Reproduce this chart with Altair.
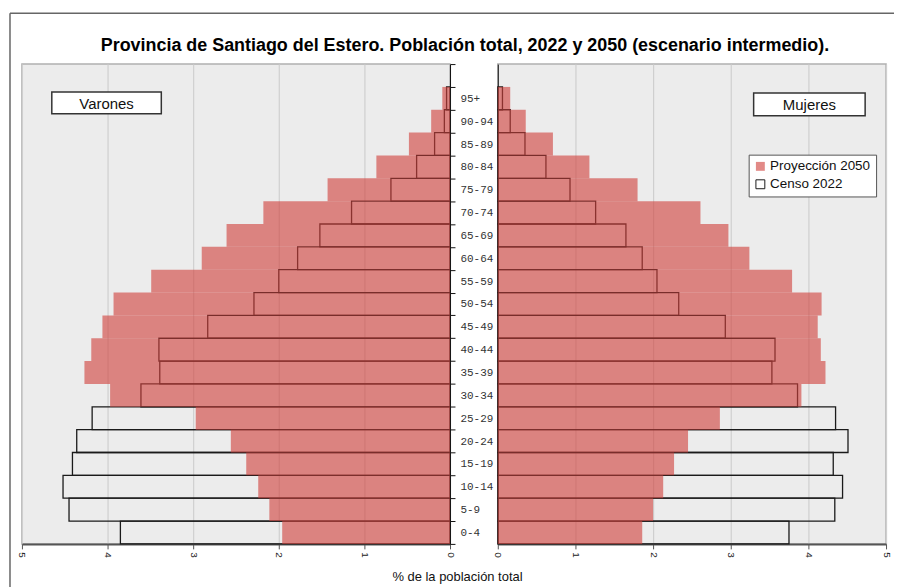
import altair as alt
import pandas as pd

AGES = ["0-4", "5-9", "10-14", "15-19", "20-24", "25-29", "30-34", "35-39", "40-44", "45-49",
        "50-54", "55-59", "60-64", "65-69", "70-74", "75-79", "80-84", "85-89", "90-94", "95+"]
VARONES_2050 = [1.96, 2.11, 2.24, 2.38, 2.56, 2.97, 3.97, 4.27, 4.19, 4.06,
                3.93, 3.49, 2.90, 2.61, 2.18, 1.43, 0.86, 0.48, 0.22, 0.09]
VARONES_2022 = [3.85, 4.45, 4.52, 4.41, 4.36, 4.18, 3.61, 3.39, 3.40, 2.83,
                2.29, 2.00, 1.78, 1.52, 1.15, 0.69, 0.39, 0.18, 0.066, 0.04]
MUJERES_2050 = [1.86, 2.00, 2.13, 2.27, 2.45, 2.86, 3.91, 4.22, 4.16, 4.12,
                4.17, 3.79, 3.24, 2.97, 2.61, 1.80, 1.18, 0.71, 0.36, 0.16]
MUJERES_2022 = [3.75, 4.34, 4.44, 4.32, 4.51, 4.35, 3.86, 3.53, 3.57, 2.93,
                2.33, 2.05, 1.86, 1.65, 1.26, 0.93, 0.62, 0.35, 0.16, 0.06]
SERIES = ["Proyección 2050", "Censo 2022"]
TITLE = "Provincia de Santiago del Estero. Población total, 2022 y 2050 (escenario intermedio)."
X_TITLE = "% de la población total"

rows = []
for i, age in enumerate(AGES):
    for sexo, v50, v22 in (("Varones", VARONES_2050, VARONES_2022), ("Mujeres", MUJERES_2050, MUJERES_2022)):
        rows.append(dict(edad=age, i0=i, i1=i + 1, sexo=sexo, serie=SERIES[0], valor=v50[i], cero=0))
        rows.append(dict(edad=age, i0=i, i1=i + 1, sexo=sexo, serie=SERIES[1], valor=v22[i], cero=0))
df = pd.DataFrame(rows)

FONT = "Liberation Sans"
RED = "rgba(209,66,61,0.62)"

fill_scale = alt.Scale(domain=SERIES, range=[RED, "transparent"])
stroke_scale = alt.Scale(domain=SERIES, range=["transparent", "#1a1a1a"])
yscale = alt.Scale(domain=[0, 21], nice=False, zero=False)

label_expr = "[" + ",".join("'%s'" % a for a in AGES) + "][floor(datum.value)]"


def panel(sexo, reverse, show_legend, y_axis, x_title):
    sub = df[df.sexo == sexo]
    xaxis = alt.Axis(values=[0, 1, 2, 3, 4, 5], grid=True, gridColor="#cfcfcf", gridWidth=1.2,
                     tickColor="#555", tickSize=5, domainColor="#555", domainWidth=2,
                     labelAngle=90, labelFontSize=10, labelFont=FONT, labelColor="#222",
                     labelPadding=3,
                     title=x_title if x_title else None, titleFont=FONT, titleFontSize=13,
                     titleFontWeight="normal", titleColor="#111",
                     **({"titleX": 437, "titleY": 27, "titleBaseline": "top"} if x_title else {}))
    x = alt.X("cero:Q", scale=alt.Scale(domain=[0, 5], reverse=reverse, nice=False), axis=xaxis)
    x2 = alt.X2("valor:Q")
    y = alt.Y("i0:Q", scale=yscale, axis=y_axis)
    y2 = alt.Y2("i1:Q")
    legend = alt.Legend(orient="none", legendX=252, legendY=91, title=None,
                        fillColor="white", strokeColor="#555", padding=5,
                        labelFont=FONT, labelFontSize=13.5, labelColor="#111",
                        symbolType="square", symbolSize=80, symbolStrokeWidth=1,
                        rowPadding=3, labelOffset=3) if show_legend else None
    fill = alt.Fill("serie:N", scale=fill_scale, legend=legend, sort=SERIES)
    stroke = alt.Stroke("serie:N", scale=stroke_scale, legend=legend, sort=SERIES)
    censo = alt.Chart(sub[sub.serie == SERIES[1]]).mark_rect(strokeWidth=1.3).encode(
        x=x, x2=x2, y=y, y2=y2, fill=fill, stroke=stroke)
    proy = alt.Chart(sub[sub.serie == SERIES[0]]).mark_rect(strokeWidth=1).encode(
        x=x, x2=x2, y=y, y2=y2, fill=fill, stroke=stroke)
    return censo, proy


left_y_axis = alt.Axis(orient="right", values=list(range(22)), labels=False, grid=False,
                       tickSize=5, tickColor="#111", domainColor="#111", title=None)
right_y_axis = alt.Axis(orient="left", values=[i + 0.5 for i in range(len(AGES))], labelExpr=label_expr,
                        ticks=False, tickSize=0, labelPadding=38, labelAlign="left", labelBaseline="middle",
                        labelFont="Liberation Mono", labelFontSize=11, labelColor="#333",
                        labelOverlap=False, labelFlush=False, grid=False, domainColor="#111", title=None)

lc, lp = panel("Varones", True, False, left_y_axis, X_TITLE)
rc, rp = panel("Mujeres", False, True, right_y_axis, None)

box_df_v = pd.DataFrame({"t": ["Varones"]})
box_df_m = pd.DataFrame({"t": ["Mujeres"]})
title_df = pd.DataFrame({"t": [TITLE]})

vbox = alt.Chart(box_df_v).mark_rect(fill="white", stroke="#333", strokeWidth=1.5).encode(
    x=alt.value(30), x2=alt.value(140), y=alt.value(28), y2=alt.value(50))
vtxt = alt.Chart(box_df_v).mark_text(font=FONT, fontSize=15, color="#111", align="center",
                                     baseline="middle").encode(
    x=alt.value(85), y=alt.value(40), text="t:N")
mbox = alt.Chart(box_df_m).mark_rect(fill="white", stroke="#333", strokeWidth=1.5).encode(
    x=alt.value(257), x2=alt.value(369), y=alt.value(29), y2=alt.value(52))
mtxt = alt.Chart(box_df_m).mark_text(font=FONT, fontSize=15, color="#111", align="center",
                                     baseline="middle").encode(
    x=alt.value(313), y=alt.value(41), text="t:N")

# chart title (as text) and outer frame of the figure (top and left edges)
title_txt = alt.Chart(title_df).mark_text(font=FONT, fontSize=18, fontWeight="bold", color="#000",
                                          align="center", baseline="middle").encode(
    x=alt.value(445), y=alt.value(-18), text="t:N")
frame_top = alt.Chart(box_df_v).mark_rule(color="#666", strokeWidth=1.5).encode(
    x=alt.value(-12), x2=alt.value(876), y=alt.value(-51))
frame_left = alt.Chart(box_df_v).mark_rule(color="#666", strokeWidth=1.5).encode(
    x=alt.value(-12), y=alt.value(-51), y2=alt.value(528))

left = alt.layer(lc, lp, vbox, vtxt, title_txt, frame_top, frame_left).properties(width=430, height=482)
right = alt.layer(rc, rp, mbox, mtxt).properties(width=390, height=482)

chart = alt.hconcat(left, right, spacing=48, bounds="flush").resolve_scale(
    fill="independent", stroke="independent", x="independent", y="independent"
).resolve_legend(fill="independent", stroke="independent").properties(
    padding={"left": 0, "top": 2, "right": 0, "bottom": 0},
    background="white",
).configure_view(fill="#ececec", stroke="#b0b0b0", strokeWidth=1.5)

chart.save("out.html", embed_options={"renderer": "svg", "actions": False})
